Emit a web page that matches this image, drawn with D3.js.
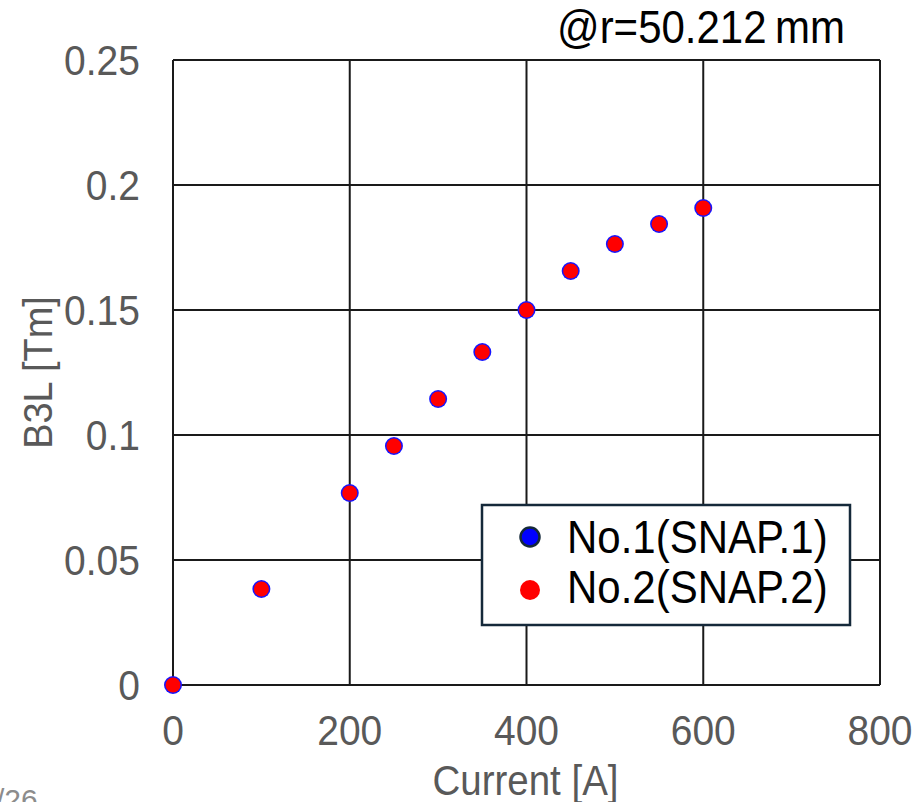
<!DOCTYPE html>
<html>
<head>
<meta charset="utf-8">
<script src="https://cdn.jsdelivr.net/npm/d3@7"></script>
<style>
  html, body { margin: 0; padding: 0; background: #fff; }
  svg { display: block; font-family: "Liberation Sans", Arial, sans-serif; }
</style>
</head>
<body>
<svg id="chart" width="917" height="802"></svg>
<script>
const currents = [0, 100, 200, 250, 300, 350, 400, 450, 500, 550, 600];
const snap1 = [0, 0.0384, 0.0768, 0.0956, 0.1144, 0.1332, 0.150, 0.1656, 0.1764, 0.1844, 0.1908];
const snap2 = [0, 0.0384, 0.0768, 0.0956, 0.1144, 0.1332, 0.150, 0.1656, 0.1764, 0.1844, 0.1908];
const xTicks = [0, 200, 400, 600, 800];
const yTicks = [0, 0.05, 0.1, 0.15, 0.2, 0.25];
const seriesNames = ["No.1(SNAP.1)", "No.2(SNAP.2)"];

const svg = d3.select("#chart");
const x = d3.scaleLinear().domain([0, 800]).range([173, 880]);
const y = d3.scaleLinear().domain([0, 0.25]).range([685, 60]);

// grid
svg.append("g")
	.selectAll("line")
	.data(xTicks)
	.join("line")
	.attr("x1", d => x(d))
	.attr("x2", d => x(d))
	.attr("y1", y(0))
	.attr("y2", y(0.25))
	.attr("stroke", "#1a1a1a")
	.attr("stroke-width", 2);
svg.append("g")
	.selectAll("line")
	.data(yTicks)
	.join("line")
	.attr("x1", x(0))
	.attr("x2", x(800))
	.attr("y1", d => y(d))
	.attr("y2", d => y(d))
	.attr("stroke", "#1a1a1a")
	.attr("stroke-width", 2);

// tick labels, a little taller than wide like the original
svg.append("g")
	.selectAll("text")
	.data(yTicks)
	.join("text")
	.attr("transform", d => "translate(140," + (y(d) + 15) + ") scale(1,1.1)")
	.attr("text-anchor", "end")
	.attr("font-size", 39)
	.attr("fill", "#595959")
	.text(d => d === 0 ? "0" : String(d));
svg.append("g")
	.selectAll("text")
	.data(xTicks)
	.join("text")
	.attr("transform", d => "translate(" + x(d) + ",745) scale(1,1.1)")
	.attr("text-anchor", "middle")
	.attr("font-size", 39)
	.attr("fill", "#595959")
	.text(d => d);

// axis titles
svg.append("text")
	.attr("transform", "translate(" + (x(400) - 1) + ",795) scale(1,1.08)")
	.attr("text-anchor", "middle")
	.attr("font-size", 38.5)
	.attr("fill", "#595959")
	.text("Current [A]");
svg.append("text")
	.attr("transform", "translate(52," + y(0.125) + ") rotate(-90) scale(1,1.08)")
	.attr("text-anchor", "middle")
	.attr("font-size", 38)
	.attr("fill", "#595959")
	.text("B3L [Tm]");

svg.append("text")
	.attr("transform", "translate(557,43) scale(1,1.08)")
	.attr("font-size", 42)
	.attr("fill", "#000")
	.text("@r=50.212\u2009mm");

svg.append("text")
	.attr("x", -4)
	.attr("y", 810)
	.attr("font-size", 30)
	.attr("fill", "#8c8c8c")
	.text("/26");

// points
const pts1 = currents.map((c, i) => [c, snap1[i]]);
const pts2 = currents.map((c, i) => [c, snap2[i]]);
svg.append("g")
	.selectAll("circle")
	.data(pts1)
	.join("circle")
	.attr("cx", d => x(d[0]))
	.attr("cy", d => y(d[1]))
	.attr("r", 9)
	.attr("fill", "#1515ff");
svg.append("g")
	.selectAll("circle")
	.data(pts2)
	.join("circle")
	.attr("cx", d => x(d[0]))
	.attr("cy", d => y(d[1]))
	.attr("r", 7.5)
	.attr("fill", "#ff0000");

// legend
const lg = svg.append("g");
lg.append("rect")
	.attr("x", 482)
	.attr("y", 505)
	.attr("width", 368)
	.attr("height", 120)
	.attr("fill", "#fff")
	.attr("stroke", "#15293a")
	.attr("stroke-width", 2.5);
lg.append("circle")
	.attr("cx", 530)
	.attr("cy", 537)
	.attr("r", 9.5)
	.attr("fill", "#0000ff")
	.attr("stroke", "#15293a")
	.attr("stroke-width", 2.5);
lg.append("circle")
	.attr("cx", 530)
	.attr("cy", 590)
	.attr("r", 10)
	.attr("fill", "#ff0000");
lg.selectAll("text")
	.data(seriesNames)
	.join("text")
	.attr("transform", (d, i) => "translate(567," + (553 + i * 50) + ") scale(1,1.08)")
	.attr("font-size", 42)
	.attr("fill", "#000")
	.text(d => d);
</script>
</body>
</html>
